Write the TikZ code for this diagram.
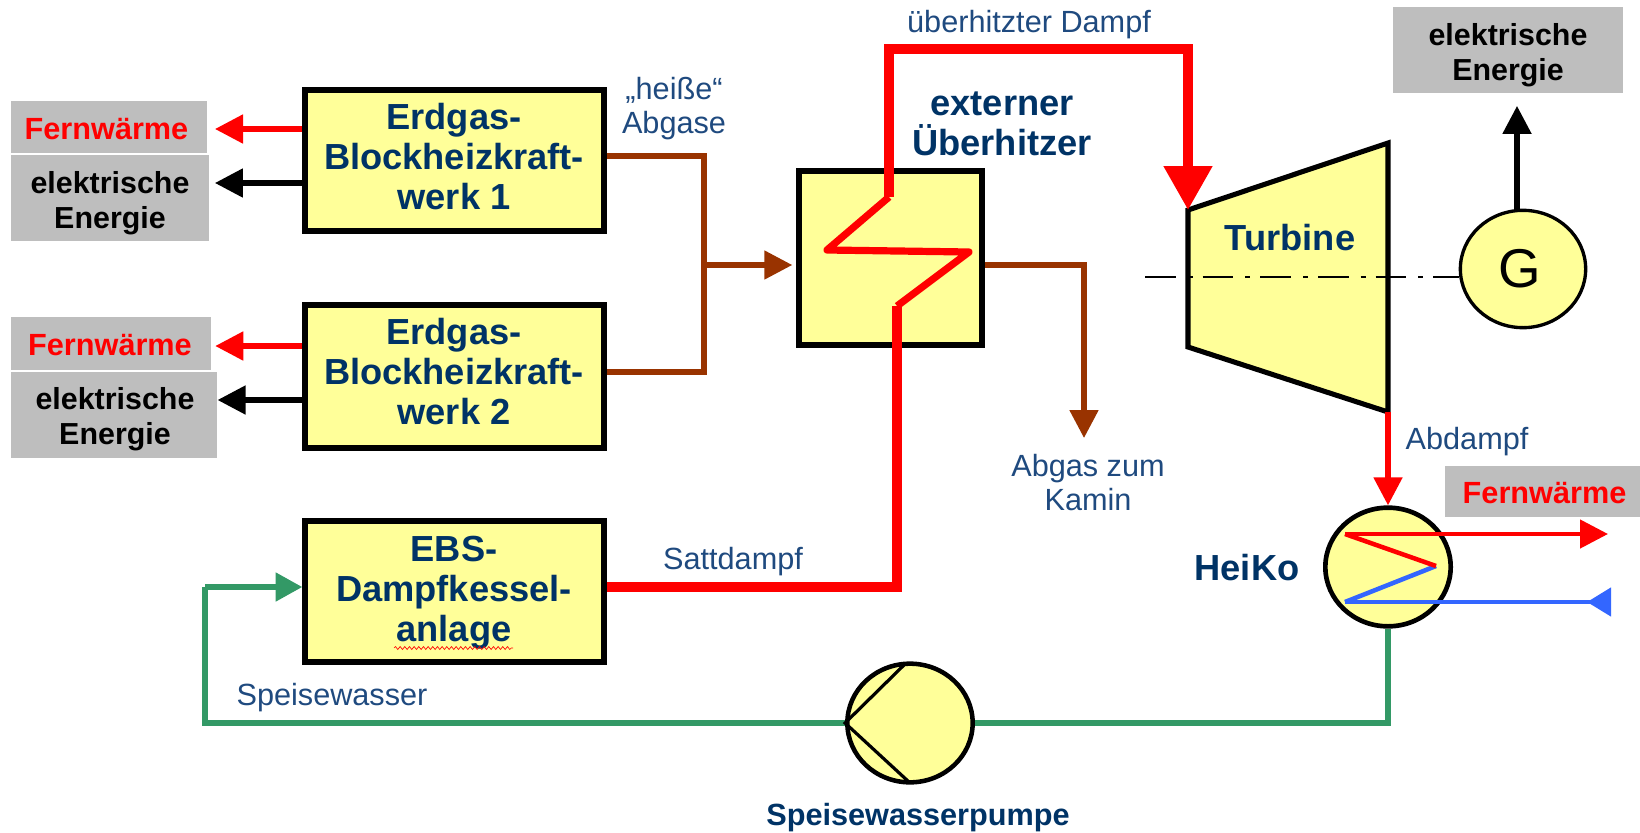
\documentclass[tikz,border=0pt]{standalone}
\usepackage{fontspec}
\setmainfont{Liberation Sans}
\usetikzlibrary{arrows.meta,shapes.geometric,decorations.pathmorphing}
\definecolor{ybox}{HTML}{FFFF99}
\definecolor{gbox}{HTML}{BEBEBE}
\definecolor{navy}{HTML}{003366}
\definecolor{ltxt}{HTML}{1F4A7F}
\definecolor{brown}{HTML}{993300}
\definecolor{green}{HTML}{339966}
\definecolor{blue}{HTML}{3366FF}
\tikzset{
  ybx/.style={draw=black,fill=ybox,line width=4.1pt,inner sep=0pt},
  ytxt/.style={inner sep=0pt,align=center,text=navy,font=\bfseries\fontsize{27.2}{30}\selectfont},
  gray box/.style={fill=gbox,inner sep=0pt},
  gtxt/.style={inner sep=0pt,align=center,text=black,font=\bfseries\fontsize{22.8}{26}\selectfont},
  rtxt/.style={inner sep=0pt,text=red,font=\bfseries\fontsize{23}{26}\selectfont},
  round shape/.style={ellipse,draw=black,fill=ybox,inner sep=0pt},
  thin lbl/.style={text=ltxt,align=center,inner sep=0pt,font=\fontsize{23}{25.5}\selectfont},
  bold lbl/.style={text=navy,align=center,inner sep=0pt,font=\bfseries\fontsize{27.2}{30.5}\selectfont},
  tip/.style={-{Triangle[length=21pt,width=21pt]}},
  redln/.style={draw=red,line width=3.8pt},
  blackln/.style={draw=black,line width=3.8pt},
  brownln/.style={draw=brown,line width=3.8pt},
  greenln/.style={draw=green,line width=3.8pt},
  blueln/.style={draw=blue,line width=3.4pt},
}
\begin{document}
\begin{tikzpicture}[x=0.75pt,y=-0.75pt]
\useasboundingbox (0,0) rectangle (1640,832);

% gray labels
\node[gray box,minimum width=147.4pt,minimum height=39.5pt] (f1) at (109,127) {};
\node[gray box,minimum width=149pt,minimum height=65pt] (e1) at (110,198) {};
\node[gray box,minimum width=150pt,minimum height=39.75pt] (f2) at (111,343.5) {};
\node[gray box,minimum width=155pt,minimum height=65pt] (e2) at (114,415) {};
\node[gray box,minimum width=172.5pt,minimum height=64.5pt] (e3) at (1508,50) {};
\node[gray box,minimum width=146pt,minimum height=38pt] (f3) at (1542.5,491.5) {};
\node[rtxt] (f1t) at (106.5,129) {Fernwärme};
\node[gtxt] (e1t) at (110,203) {elektrische\\Energie};
\node[rtxt] (f2t) at (110,345.5) {Fernwärme};
\node[gtxt] (e2t) at (115,419) {elektrische\\Energie};
\node[gtxt] (e3t) at (1508,55) {elektrische\\Energie};
\node[rtxt] (f3t) at (1544.5,493.5) {Fernwärme};

% yellow boxes
\node[ybx,minimum width=224.25pt,minimum height=105.75pt] (b1) at (454.5,160.5) {};
\node[ybx,minimum width=224.25pt,minimum height=107pt] (b2) at (454.5,376.5) {};
\node[ybx,minimum width=224.25pt,minimum height=105.75pt] (b3) at (454.5,591.5) {};
\node[ybx,minimum width=137.25pt,minimum height=130.5pt] (sh) at (890.5,258) {};
\node[ytxt] (b1t) at (454,157) {Erdgas-\\Blockheizkraft-\\werk 1};
\node[ytxt] (b2t) at (454,371.5) {Erdgas-\\Blockheizkraft-\\werk 2};
\node[ytxt] (b3t) at (454,592.5) {EBS-\\Dampfkessel-\\anlage};

% turbine
\coordinate (tA) at (1188,210);
\coordinate (tB) at (1388,143);
\coordinate (tC) at (1388,412);
\coordinate (tD) at (1188,347);
\draw[fill=ybox,draw=black,line width=3.8pt,line join=miter] (tA) -- (tB) -- (tC) -- (tD) -- cycle;
\node[bold lbl] (turb) at (1290,238) {Turbine};

% generator
\node[round shape,line width=2.5pt,minimum width=94pt,minimum height=88pt] (gen) at (1523,269) {};
\node[inner sep=0pt,font=\fontsize{41}{44}\selectfont] (gl) at (1520,269) {G};

% shaft
\coordinate (shaftA) at (1145,277);
\draw[black,line width=2.2pt,dash pattern=on 23pt off 9pt on 3.75pt off 7.5pt] (shaftA) -- (gen.west |- shaftA);

% heat condenser and pump
\node[round shape,line width=3.5pt,minimum width=94pt,minimum height=89pt] (hk) at (1388,567) {};
\coordinate (gnd) at (1388,723);
\coordinate (gnw) at (205,723);
\coordinate (gnn) at (205,587);
\draw[greenln] (hk.south) -- (gnd) -- (gnw) -- (gnn);
\draw[greenln,-{Triangle[length=20pt,width=21pt]}] (gnn) -- (b3.west |- gnn);
\node[round shape,line width=3.4pt,minimum width=94pt,minimum height=89pt] (pump) at (910,723) {};
\coordinate (pT) at (904,665);
\coordinate (pB) at (909,782);
\draw[black,line width=2.4pt] (pT) -- (pump.west) -- (pB);

% small output arrows
\draw[redln,tip,shorten >=5.6pt] (b1.west |- 0,129) -- (f1.east |- 0,129);
\draw[blackln,tip,shorten >=4pt] (b1.west |- 0,183) -- (e1.east |- 0,183);
\draw[redln,tip,shorten >=3pt] (b2.west |- 0,346) -- (f2.east |- 0,346);
\draw[blackln,tip,shorten >=0pt] (b2.west |- 0,400) -- (e2.east |- 0,400);

% exhaust gas
\coordinate (busT) at (704,156);
\coordinate (busB) at (704,372);
\coordinate (busM) at (704,265);
\draw[brownln] (b1.east |- busT) -- (busT) -- (busB) -- (b2.east |- busB);
\draw[brownln,tip,shorten >=3pt] (busM) -- (sh.west |- busM);
\coordinate (exC) at (1084,265);
\coordinate (exE) at (1084,438);
\draw[brownln,tip] (sh.east |- exC) -- (exC) -- (exE);

% steam
\coordinate (c1) at (889,197);
\coordinate (c2) at (827,250);
\coordinate (c3) at (969,252);
\coordinate (c4) at (897,306);
\coordinate (sat) at (897,587);
\coordinate (st1) at (889,49);
\coordinate (st2) at (1188,49);
\draw[draw=red,line width=7pt] (b3.east |- sat) -- (sat) -- (c4);
\draw[draw=red,line width=5.4pt,line join=round] (c4) -- (c3) -- (c2) -- (c1);
\draw[draw=red,line width=7pt,-{Triangle[length=33pt,width=35pt]}] (c1) -- (st1) -- (st2) -- (tA);

% condenser
\draw[redln,tip] (tC) -- (hk.north);
\coordinate (r1) at (1345,534);
\coordinate (r2) at (1436,566);
\coordinate (r3) at (1345,602);
\coordinate (rE) at (1608,534);
\coordinate (bE) at (1611,602);
\draw[blueln,line join=miter] (r2) -- (r3);
\draw[blueln,{Triangle[length=18pt,width=21pt,reversed]}-] (bE) -- (r3);
\draw[draw=red,line width=3.4pt] (r2) -- (r1);
\draw[draw=red,line width=3.4pt,tip] (r1) -- (rE);

% generator output
\draw[blackln,tip,shorten >=9.5pt] (gen.north -| 1517,0) -- (e3.south -| 1517,0);

% spell-check squiggle
\coordinate (sqA) at (394,648);
\coordinate (sqB) at (513,648);
\draw[red,line width=0.5pt,decorate,decoration={snake,amplitude=1.1pt,segment length=3.5pt}] (sqA) -- (sqB);

% labels
\node[thin lbl] (lheiss) at (674,109) {„heiße“\\Abgase};
\node[bold lbl] (lext) at (1002,124) {externer\\Überhitzer};
\node[thin lbl] (lue) at (1029,25) {überhitzter Dampf};
\node[thin lbl] (lab) at (1467,442) {Abdampf};
\node[thin lbl] (lkam) at (1088,483) {Abgas zum\\Kamin};
\node[thin lbl] (lsat) at (733,562) {Sattdampf};
\node[thin lbl] (lsp) at (332,698) {Speisewasser};
\node[bold lbl,font=\bfseries\fontsize{23}{25}\selectfont] (lpump) at (918,818) {Speisewasserpumpe};
\node[bold lbl] (lhk) at (1247,568) {HeiKo};
\end{tikzpicture}
\end{document}
